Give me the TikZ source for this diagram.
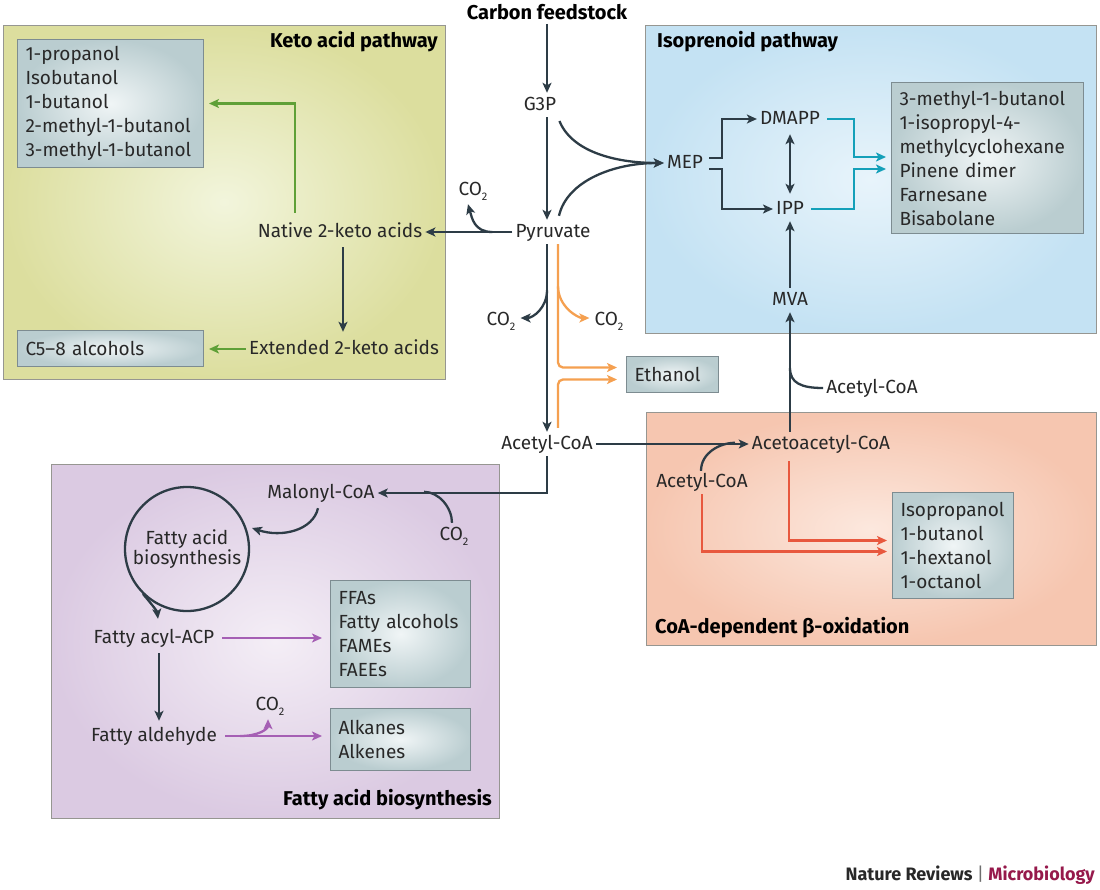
\documentclass[tikz,border=0pt]{standalone}
\usepackage{fontspec}
\setmainfont{Fira Sans}
\usetikzlibrary{arrows.meta,calc}
\definecolor{dk}{RGB}{45,60,70}
\definecolor{txt}{RGB}{40,40,40}
\definecolor{gr}{RGB}{95,160,55}
\definecolor{org}{RGB}{245,160,80}
\definecolor{cy}{RGB}{20,160,185}
\definecolor{rd}{RGB}{232,88,62}
\definecolor{pu}{RGB}{165,95,180}
\definecolor{kout}{RGB}{220,222,158}
\definecolor{kin}{RGB}{242,245,220}
\definecolor{iout}{RGB}{196,226,243}
\definecolor{iin}{RGB}{232,244,251}
\definecolor{cout}{RGB}{246,198,176}
\definecolor{cin}{RGB}{252,232,222}
\definecolor{fout}{RGB}{219,202,226}
\definecolor{fin}{RGB}{244,238,246}
\definecolor{bout}{RGB}{186,205,208}
\definecolor{bin}{RGB}{240,245,246}
\definecolor{pbord}{RGB}{150,150,145}
\definecolor{bbord}{RGB}{125,140,145}
\definecolor{mag}{RGB}{150,25,75}
\definecolor{barc}{RGB}{110,110,110}
\newcommand\cotwo{CO\raisebox{-5pt}{\fontsize{11}{11}\selectfont 2}}
\begin{document}
\begin{tikzpicture}[x=1pt,y=-1pt,
  font=\fontsize{19}{24}\selectfont,
  lbl/.style={text=txt, inner sep=3pt, text height=14pt, text depth=4pt},
  ttl/.style={text=black, font=\fontsize{20}{24}\selectfont\bfseries, inner sep=0pt},
  tipr/.style={-{Stealth[length=10pt,width=9pt,inset=2.5pt]}},
  ln/.style={line width=2.3pt, draw=dk},
  arr/.style={ln, tipr},
  darr/.style={ln, {Stealth[length=10pt,width=9pt,inset=2.5pt]}-{Stealth[length=10pt,width=9pt,inset=2.5pt]}},
  garr/.style={line width=2.3pt, draw=gr, tipr},
  oarr/.style={line width=2.3pt, draw=org, tipr},
  carr/.style={line width=2.3pt, draw=cy, tipr},
  rarr/.style={line width=2.3pt, draw=rd, tipr},
  parr/.style={line width=2.3pt, draw=pu, tipr},
  panel/.style={draw=pbord, line width=1pt},
  pbox/.style={anchor=north west, draw=bbord, line width=1pt, inner color=bin, outer color=bout, align=left, inner xsep=8pt, inner ysep=4pt, text=txt}
]
\useasboundingbox (0,0) rectangle (1100,889);
\fill[white] (0,0) rectangle (1100,889);

% panels
\draw[panel, inner color=kin, outer color=kout] (3,25) rectangle (445,379);
\draw[panel, inner color=iin, outer color=iout] (645,25) rectangle (1096,333);
\draw[panel, inner color=cin, outer color=cout] (646,412) rectangle (1096,645);
\draw[panel, inner color=fin, outer color=fout] (51,464) rectangle (499,818);

% titles
\node[ttl, anchor=east] (tk) at (438,42) {Keto acid pathway};
\node[ttl, anchor=west] (ti) at (657,42) {Isoprenoid pathway};
\node[ttl, anchor=west] (tc) at (655,628) {CoA-dependent β-oxidation};
\node[ttl, anchor=east] (tf) at (492,800) {Fatty acid biosynthesis};

% central nodes
\node[ttl] (cf) at (547,12) {Carbon feedstock};
\node[lbl] (g3p) at (540,105) {G3P};
\node[lbl] (pyr) at (553,232) {Pyruvate};
\node[lbl] (acoa) at (547,444) {Acetyl-CoA};
\node[lbl] (co2L) at (473,190) {\cotwo};
\node[lbl] (co2a) at (501,320) {\cotwo};
\node[lbl] (co2b) at (609,320) {\cotwo};
\node[pbox, text width=76pt, minimum height=36pt] (eth) at (626,356) {Ethanol};

% keto
\node[lbl] (nat) at (340,232) {Native 2-keto acids};
\node[lbl] (ext) at (344,349) {Extended 2-keto acids};
\node[pbox, text width=170pt, minimum height=128pt] (kbox) at (17,39) {1-propanol\\Isobutanol\\1-butanol\\2-methyl-1-butanol\\3-methyl-1-butanol};
\node[pbox, text width=170pt, minimum height=36pt] (cbox) at (17,330) {C5–8 alcohols};

% isoprenoid
\node[lbl] (mep) at (685,163) {MEP};
\node[lbl] (dmapp) at (790,119) {DMAPP};
\node[lbl] (ipp) at (790,209) {IPP};
\node[lbl] (mva) at (790,300) {MVA};
\node[pbox, text width=176pt, minimum height=151pt] (ibox) at (891,82) {3-methyl-1-butanol\\1-isopropyl-4-\\methylcyclohexane\\Pinene dimer\\Farnesane\\Bisabolane};

% CoA
\node[lbl] (acoa2) at (872,388) {Acetyl-CoA};
\node[lbl] (acac) at (821,444) {Acetoacetyl-CoA};
\node[lbl] (acoa3) at (702,482) {Acetyl-CoA};
\node[pbox, text width=105pt, minimum height=106pt] (obox) at (892,492) {Isopropanol\\1-butanol\\1-hextanol\\1-octanol};

% fatty
\node[lbl] (mal) at (321,493) {Malonyl-CoA};
\node[lbl] (co2c) at (454,535) {\cotwo};
\node[circle, draw=dk, line width=2.3pt, minimum size=124pt, inner sep=0pt, align=center, text=txt, font=\fontsize{19}{20}\selectfont] (fab) at (187,549) {Fatty acid\\biosynthesis};
\node[lbl] (facp) at (154,638) {Fatty acyl-ACP};
\node[lbl] (fald) at (154,736) {Fatty aldehyde};
\node[lbl] (co2d) at (270,705) {\cotwo};
\node[pbox, text width=124pt, minimum height=107pt] (fbox) at (330,580) {FFAs\\Fatty alcohols\\FAMEs\\FAEEs};
\node[pbox, text width=124pt, minimum height=62pt] (abox) at (330,708) {Alkanes\\Alkenes};

% footer
\node[anchor=east, inner sep=0pt, font=\fontsize{18}{22}\selectfont\bfseries, text=txt] (foot) at (1095,875) {Nature Reviews {\color{barc}\mdseries|} \textcolor{mag}{Microbiology}};

% ---- connectors: central
\draw[arr, shorten <=4pt] (cf) -- (cf |- g3p.north);
\draw[arr] (cf |- g3p.south) -- (cf |- pyr.north);
\draw[arr] (cf |- pyr.south) -- (acoa);
\draw[arr] ($(g3p.east)+(0,16)$) .. controls +(12,30) and +(-50,0) .. (mep.west);
\draw[arr] ($(pyr.north)+(6,-4)$) .. controls +(8,-35) and +(-50,0) .. (mep.west);
\draw[arr] (pyr.west) -- (nat.east);
\draw[arr] ($(pyr.west)+(-20,0)$) .. controls +(-18,0) and +(4,14) .. ($(co2L.south)+(-5,2)$);
\draw[arr] ($(cf |- pyr.south)+(0,46)$) .. controls +(0,18) and +(12,0) .. ($(co2a.east)+(2,-2)$);
\draw[oarr, rounded corners=5pt] ($(pyr.south)+(5,0)$) |- ($(eth.west)+(-9,-7)$);
\draw[oarr, rounded corners=5pt] ($(acoa.north)+(11,-4)$) |- ($(eth.west)+(-9,5)$);
\draw[oarr] ($(pyr.south)+(5,42)$) .. controls +(0,20) and +(-12,0) .. ($(co2b.west)+(-2,-2)$);

% keto connectors
\coordinate (ct) at (ext.west -| cbox.east);
\draw[garr] ($(nat.north)+(-45,-7)$) |- ($(kbox.east)+(5,0)$);
\draw[arr] ($(nat.south)+(3,3)$) -- ($(ext.north)+(-1,-5)$);
\draw[garr] (ext.west) -- ($(ct)+(5,0)$);

% isoprenoid connectors
\draw[arr] ($(mep.east)+(3,-5)$) -- ++(13,0) |- (dmapp.west);
\draw[arr] ($(mep.east)+(3,6)$) -- ++(13,0) |- (ipp.west);
\draw[darr, shorten >=3pt, shorten <=3pt] (dmapp) -- (ipp);
\draw[arr] (mva) -- (ipp);
\coordinate (cj) at (854,0);
\coordinate (cu) at ($(ibox.west)+(-5,-1)$);
\coordinate (cd) at ($(ibox.west)+(-5,11)$);
\draw[carr] ($(dmapp.east)+(4,0)$) -| (cj |- cu) -- (cu);
\draw[carr] ($(ipp.east)+(4,0)$) -| (cj |- cd) -- (cd);

% CoA connectors
\draw[arr] (mva |- acac.north) -- (mva);
\draw[ln] (acoa2.west) .. controls +(-22,0) and +(0,15) .. ($(mva |- acoa2)+(0,-20)$);
\draw[arr] (acoa) -- (acac);
\draw[ln] ($(acoa3.north)+(-1,1)$) .. controls +(0,-18) and +(-15,0) .. ($(acoa3.north)+(33,-27)$);
\coordinate (ru) at ($(obox.west)+(-5,-5)$);
\coordinate (rdn) at ($(obox.west)+(-5,6)$);
\draw[rarr] ($(acac.south)+(-32,5)$) |- (ru);
\draw[rarr] (acoa3.south) |- (rdn);

% fatty connectors
\draw[arr] (acoa.south) |- (mal.east);
\draw[ln] ($(co2c.north)+(-2,0)$) .. controls +(0,-15) and +(15,0) .. ($(co2c.north)+(-30,-31)$);
\draw[arr] ($(mal.south)+(-3,3)$) .. controls +(-5,22) and +(30,10) .. ($(fab)+(65,-21)$);
\draw[arr] ($(fab)+(-44,45)$) .. controls +(6,7) and +(-1,-8) .. ($(facp.north)+(4,-7)$);
\coordinate (pf) at ($(fbox.west)+(-8,0)$);
\coordinate (pa) at ($(abox.west)+(-8,0)$);
\draw[parr] ($(facp.east)+(5,0)$) -- (facp.east -| pf);
\draw[arr] ($(facp.south)+(5,3)$) -- ($(fald.north)+(5,-3)$);
\draw[parr] ($(fald.east)+(5,0)$) -- (fald.east -| pa);
\draw[parr] ($(fald.east)+(20,0)$) .. controls +(18,0) and +(0,10) .. ($(co2d.south)+(-2,2)$);
\end{tikzpicture}
\end{document}
